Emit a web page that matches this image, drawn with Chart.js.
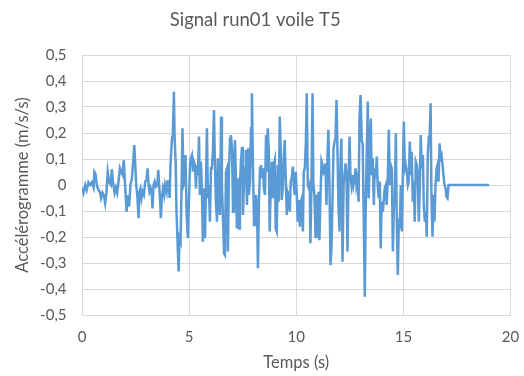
<!DOCTYPE html>
<html lang="fr">
<head>
<meta charset="utf-8">
<title>Signal run01 voile T5</title>
<script src="https://cdn.jsdelivr.net/npm/chart.js@4.4.1/dist/chart.umd.min.js"></script>
<style>
  html, body { margin: 0; padding: 0; background: #fff; }
  #chartSignal { display: block; }
</style>
</head>
<body>
<canvas id="chartSignal" width="524" height="376"></canvas>
<script>
// Temps (s) et accélération (m/s/s) du signal, lus par tronçons
const temps = [
  0, 0.07, 0.15, 0.22, 0.30, 0.38, 0.46, 0.54, 0.58, 0.64, 0.69, 0.77, 0.85, 0.89, 0.96, 1.02, 1.08, 1.14, 1.20, 1.27,
  1.35, 1.39, 1.45, 1.52, 1.58, 1.64, 1.70, 1.77, 1.83, 1.89, 1.95, 2.01, 2.08, 2.14, 2.20, 2.26, 2.33, 2.39, 2.44, 2.48,
  2.53, 2.59, 2.64, 2.68, 2.73, 2.78, 2.83, 2.89, 2.95, 3.01, 3.06, 3.11, 3.15, 3.20, 3.26, 3.29, 3.34, 3.39, 3.45, 3.51,
  3.56, 3.60, 3.65, 3.68, 3.73, 3.78, 3.84, 3.88, 3.95, 3.99, 4.04, 4.09, 4.13, 4.20, 4.24, 4.29,
  4.32, 4.37, 4.41, 4.46, 4.51, 4.55, 4.60, 4.65, 4.69, 4.74, 4.79, 4.83, 4.88,
  4.94, 4.99, 5.04, 5.08, 5.13, 5.18, 5.22, 5.27, 5.32, 5.36, 5.41, 5.46, 5.50, 5.55, 5.60, 5.64, 5.69, 5.74, 5.78, 5.83,
  5.88, 5.92, 5.97, 6.02, 6.06, 6.11, 6.16, 6.20, 6.25, 6.30, 6.34, 6.39, 6.44, 6.49, 6.53, 6.58, 6.63, 6.67, 6.72, 6.77,
  6.81, 6.86, 6.91, 6.95, 7.00, 7.05, 7.09, 7.14, 7.19, 7.23, 7.28, 7.33, 7.37, 7.42, 7.47, 7.51, 7.56, 7.61, 7.65, 7.70,
  7.75, 7.79, 7.84, 7.89, 7.93, 7.98, 8.03, 8.07, 8.12, 8.17, 8.21, 8.26, 8.31, 8.35, 8.40, 8.45, 8.49, 8.54, 8.59, 8.63,
  8.67, 8.72, 8.76, 8.81, 8.86, 8.90, 8.95, 9.00, 9.04, 9.09, 9.14, 9.18, 9.23, 9.28, 9.32, 9.37, 9.42, 9.46, 9.51, 9.56,
  9.60, 9.65, 9.70, 9.74, 9.79, 9.84, 9.88, 9.93, 9.98, 10.03, 10.07, 10.12, 10.17, 10.21, 10.26, 10.31, 10.35, 10.40,
  10.45, 10.49, 10.54, 10.59, 10.63,
  10.66, 10.71, 10.76, 10.80, 10.85, 10.90, 10.94, 10.99, 11.04, 11.08, 11.13, 11.18, 11.22, 11.27, 11.32, 11.36, 11.41,
  11.46, 11.50, 11.55, 11.60, 11.65, 11.69, 11.74, 11.79, 11.83, 11.88, 11.93, 11.97, 12.02, 12.07, 12.11, 12.16, 12.21,
  12.25, 12.30, 12.35, 12.39, 12.44, 12.49, 12.53, 12.58, 12.63, 12.67, 12.72, 12.77, 12.81, 12.86, 12.91, 12.95, 13.00,
  13.06, 13.10, 13.15, 13.20, 13.24, 13.29, 13.34, 13.38, 13.43, 13.48, 13.52, 13.57, 13.62, 13.66, 13.71, 13.76, 13.80,
  13.85, 13.90, 13.94, 13.99, 14.04, 14.08, 14.13, 14.18, 14.22, 14.27, 14.32, 14.37, 14.41, 14.46, 14.51, 14.55, 14.60,
  14.65, 14.69, 14.74, 14.79, 14.83, 14.88, 14.93, 14.97, 15.02, 15.07, 15.11, 15.16, 15.21, 15.25, 15.30, 15.35, 15.39,
  15.44, 15.49, 15.53, 15.58, 15.63, 15.67, 15.72, 15.77, 15.81, 15.86, 15.91, 15.95, 16.00, 16.05, 16.09, 16.14, 16.19,
  16.23,
  16.27, 16.31, 16.36, 16.41, 16.45, 16.50, 16.55, 16.59, 16.64, 16.69, 16.73, 16.78, 16.83, 16.87, 16.92, 16.97, 17.01,
  17.06, 17.11, 19.0
];

const acceleration = [
  -0.01, -0.03, 0, -0.02, 0.01, 0, 0.01, -0.01, 0.05, 0.04, 0, -0.02, -0.03, -0.05, -0.03, -0.04, -0.07, -0.03, 0.05, 0.01,
  0, 0.06, 0.01, -0.03, -0.01, -0.03, 0.01, 0.064, 0.05, 0.04, 0.096, 0, -0.103, -0.04, -0.083, 0, 0.026, 0.09, 0.154, 0.09,
  0, -0.05, -0.128, -0.026, -0.013, -0.05, -0.026, -0.038, 0.013, 0.019, 0.064, 0, -0.026, -0.013, -0.038, -0.09, 0, 0.013, -0.006, 0,
  0.058, 0, -0.064, -0.128, -0.05, -0.013, -0.038, 0, -0.026, 0.013, 0.013, -0.05, 0.077, 0.179, 0.192, 0.359,
  0.19, 0.09, -0.10, -0.218, -0.333, -0.205, -0.218, 0, 0.218, 0, 0.013, 0.115, -0.103,
  -0.205, -0.064, 0.077, 0.103, 0.115, 0.051, 0.09, 0.077, -0.013, 0.077, 0.038, 0.186, -0.038, 0.09, -0.026, -0.218, -0.013, -0.205, -0.038, 0.218,
  -0.051, 0, -0.141, 0.064, 0.064, 0.128, 0.288, 0.09, -0.064, -0.141, 0.103, -0.077, -0.115, 0.263, 0, -0.128, -0.263, -0.269, 0.051, 0.064,
  -0.256, 0.064, 0.179, 0.192, 0.141, -0.103, 0.051, 0.173, 0, -0.167, 0.026, -0.167, 0, 0.09, 0.147, -0.115, 0, 0.064, 0.135, -0.077,
  0.141, -0.038, 0.013, 0.218, 0.353, 0.064, -0.154, -0.09, -0.038, -0.09, -0.32, -0.064, 0.064, 0.077, 0.026, 0.064, -0.013, -0.038, 0.192, 0.051,
  0.218, 0.128, -0.179, 0, 0.09, -0.051, 0.077, 0.096, -0.167, -0.179, 0.077, -0.064, 0.263, 0.128, -0.058, -0.013, 0.103, 0.173, 0.026, -0.115,
  -0.026, -0.038, -0.103, 0.013, 0.026, 0.071, 0, -0.038, 0.051, -0.051, -0.141, -0.058, -0.16, -0.064, -0.051, -0.179, 0.051, 0.064,
  0.167, 0.353, 0, -0.013, 0,
  -0.224, 0, 0.353, 0, -0.038, -0.205, -0.038, -0.205, -0.026, -0.212, -0.051, 0.09, 0.077, 0.051, 0.064, 0.083, -0.077,
  0.115, 0.212, 0, -0.308, -0.231, -0.064, 0.141, 0.167, 0.179, 0.327, 0.103, -0.077, -0.179, 0.103, 0.179, -0.295, 0,
  0.038, 0.083, 0.026, -0.256, 0.026, 0.186, 0.038, 0, 0.038, 0, 0.026, 0.064, 0, 0.026, -0.064, 0.256, 0.346,
  0.167, 0.16, -0.128, -0.43, -0.103, 0.128, 0.321, -0.051, 0.09, 0.256, 0.038, 0.103, -0.077, 0.064, 0.026, 0.109, 0,
  -0.051, 0.013, -0.244, -0.064, -0.103, -0.064, -0.013, 0, -0.077, 0.013, 0.212, 0, 0.077, 0.064, -0.256, -0.103, -0.038,
  0.199, -0.128, -0.346, -0.128, -0.167, 0, -0.179, 0.013, 0.244, 0.064, 0.077, 0.051, 0, 0.013, 0.167, 0.038, 0.128,
  -0.064, 0.013, -0.141, 0.09, 0.077, 0.051, -0.141, 0, 0.192, 0.064, 0.115, -0.064, -0.141, -0.103, -0.199, 0.115, 0.186,
  0.192,
  0.314, -0.038, -0.199, -0.038, -0.141, 0, 0.064, 0.077, 0.013, 0.16, 0.103, 0.115, 0.077, 0.038, 0, -0.013, -0.045,
  -0.051, 0, 0
];

// graduations des axes
const xTicks = [0, 5, 10, 15, 20];
const yTicks = [-0.5, -0.4, -0.3, -0.2, -0.1, 0, 0.1, 0.2, 0.3, 0.4, 0.5];

const police = 'Lato, "Open Sans", sans-serif';
const gris = '#595959';
const grille = '#d9d9d9';

const points = temps.map((t, i) => ({ x: t, y: acceleration[i] }));

// virgule décimale, comme dans Excel
const formatFr = v => Math.abs(v) < 1e-9 ? '0' : v.toFixed(1).replace('.', ',');

// écart libellés / axe porté par des graduations invisibles,
// pour ne pas gonfler les marges calculées par Chart.js
const grilleAxe = ecart => ({ color: grille, drawTicks: true, tickLength: ecart, tickColor: 'rgba(0,0,0,0)' });

new Chart(document.getElementById('chartSignal'), {
  type: 'line',
  data: {
    datasets: [{
      data: points,
      borderColor: '#5b9bd5',
      borderWidth: 2.5,
      pointRadius: 0,
      tension: 0,
      fill: false
    }]
  },
  options: {
    responsive: false,
    animation: false,
    layout: { padding: { left: 0, right: 13.5, top: 0, bottom: 0 } },
    plugins: {
      legend: { display: false },
      tooltip: { enabled: false },
      title: {
        display: true,
        text: 'Signal run01 voile T5',
        color: gris,
        font: { family: police, size: 18.5, weight: 'normal' },
        padding: { top: 9, bottom: 23.8 }
      }
    },
    scales: {
      x: {
        type: 'linear',
        min: xTicks[0],
        max: xTicks[xTicks.length - 1],
        afterBuildTicks: s => { s.ticks = xTicks.map(v => ({ value: v })); },
        afterFit: s => { s.height = 61; },
        ticks: { color: gris, font: { family: police, size: 15 }, padding: 0 },
        grid: grilleAxe(13),
        border: { color: grille },
        title: {
          display: true,
          text: 'Temps (s)',
          color: gris,
          font: { family: police, size: 16.5 },
          padding: { top: 0, bottom: 3.1 }
        }
      },
      y: {
        min: yTicks[0],
        max: yTicks[yTicks.length - 1],
        afterBuildTicks: s => { s.ticks = yTicks.map(v => ({ value: v })); },
        afterFit: s => { s.width = 82; },
        ticks: { color: gris, font: { family: police, size: 15 }, padding: 0, callback: formatFr },
        grid: grilleAxe(15.5),
        border: { color: grille },
        title: {
          display: true,
          text: 'Accélérogramme (m/s/s)',
          color: gris,
          font: { family: police, size: 16.5 },
          padding: { top: 13, bottom: 0 }
        }
      }
    }
  }
});
</script>
</body>
</html>
